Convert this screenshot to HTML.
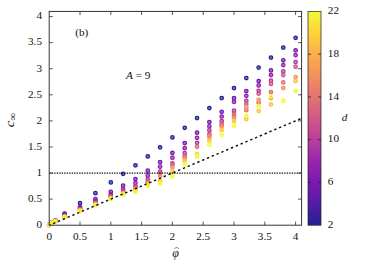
<!DOCTYPE html>
<html><head><meta charset="utf-8"><title>fig</title>
<style>html,body{margin:0;padding:0;background:#fff}body{width:374px;height:262px;overflow:hidden;font-family:"Liberation Serif",serif}svg{display:block}</style></head><body>
<svg width="374" height="262" viewBox="0 0 374 262">
<rect width="374" height="262" fill="#fff"/>
<defs><linearGradient id="pl" x1="0" y1="1" x2="0" y2="0">
<stop offset="0.0" stop-color="#0d0887"/>
<stop offset="0.1" stop-color="#41049d"/>
<stop offset="0.2" stop-color="#6a00a8"/>
<stop offset="0.3" stop-color="#8f0da4"/>
<stop offset="0.4" stop-color="#b12a90"/>
<stop offset="0.5" stop-color="#cc4778"/>
<stop offset="0.6" stop-color="#e16462"/>
<stop offset="0.7" stop-color="#f2844b"/>
<stop offset="0.8" stop-color="#fca636"/>
<stop offset="0.9" stop-color="#fcce25"/>
<stop offset="1.0" stop-color="#f0f921"/>
</linearGradient></defs>
<rect x="308" y="11.4" width="13" height="213.8" fill="url(#pl)" fill-opacity="0.9"/>
<rect x="308" y="11.4" width="13" height="213.8" fill="none" stroke="#222" stroke-width="0.7"/>
<path d="M308 54.16h3M321 54.16h-3" stroke="#222" stroke-width="0.8" fill="none"/>
<path d="M308 96.92h3M321 96.92h-3" stroke="#222" stroke-width="0.8" fill="none"/>
<path d="M308 139.68h3M321 139.68h-3" stroke="#222" stroke-width="0.8" fill="none"/>
<path d="M308 182.44h3M321 182.44h-3" stroke="#222" stroke-width="0.8" fill="none"/>
<g stroke-width="1.25">
<circle cx="49.20" cy="224.80" r="1.75" stroke="#252193" fill="#252193" fill-opacity="0.62"/>
<circle cx="51.97" cy="222.00" r="1.75" stroke="#252193" fill="#252193" fill-opacity="0.62"/>
<circle cx="55.36" cy="220.70" r="1.75" stroke="#252193" fill="#252193" fill-opacity="0.62"/>
<circle cx="64.60" cy="213.70" r="1.75" stroke="#252193" fill="#252193" fill-opacity="0.62"/>
<circle cx="80.00" cy="203.00" r="1.75" stroke="#252193" fill="#252193" fill-opacity="0.62"/>
<circle cx="95.40" cy="193.20" r="1.75" stroke="#252193" fill="#252193" fill-opacity="0.62"/>
<circle cx="110.80" cy="182.40" r="1.75" stroke="#252193" fill="#252193" fill-opacity="0.62"/>
<circle cx="123.12" cy="173.80" r="1.75" stroke="#252193" fill="#252193" fill-opacity="0.62"/>
<circle cx="135.44" cy="165.25" r="1.75" stroke="#252193" fill="#252193" fill-opacity="0.62"/>
<circle cx="147.76" cy="156.40" r="1.75" stroke="#252193" fill="#252193" fill-opacity="0.62"/>
<circle cx="160.08" cy="147.30" r="1.75" stroke="#252193" fill="#252193" fill-opacity="0.62"/>
<circle cx="172.40" cy="137.45" r="1.75" stroke="#252193" fill="#252193" fill-opacity="0.62"/>
<circle cx="184.72" cy="127.80" r="1.75" stroke="#252193" fill="#252193" fill-opacity="0.62"/>
<circle cx="197.04" cy="118.00" r="1.75" stroke="#252193" fill="#252193" fill-opacity="0.62"/>
<circle cx="209.36" cy="108.00" r="1.75" stroke="#252193" fill="#252193" fill-opacity="0.62"/>
<circle cx="221.68" cy="98.05" r="1.75" stroke="#252193" fill="#252193" fill-opacity="0.62"/>
<circle cx="234.00" cy="88.05" r="1.75" stroke="#252193" fill="#252193" fill-opacity="0.62"/>
<circle cx="246.32" cy="78.00" r="1.75" stroke="#252193" fill="#252193" fill-opacity="0.62"/>
<circle cx="258.64" cy="67.60" r="1.75" stroke="#252193" fill="#252193" fill-opacity="0.62"/>
<circle cx="270.96" cy="57.50" r="1.75" stroke="#252193" fill="#252193" fill-opacity="0.62"/>
<circle cx="283.28" cy="47.50" r="1.75" stroke="#252193" fill="#252193" fill-opacity="0.62"/>
<circle cx="295.60" cy="37.75" r="1.75" stroke="#252193" fill="#252193" fill-opacity="0.62"/>
<circle cx="49.20" cy="224.80" r="1.75" stroke="#7319b0" fill="#7319b0" fill-opacity="0.62"/>
<circle cx="51.97" cy="222.30" r="1.75" stroke="#7319b0" fill="#7319b0" fill-opacity="0.62"/>
<circle cx="55.36" cy="220.90" r="1.75" stroke="#7319b0" fill="#7319b0" fill-opacity="0.62"/>
<circle cx="64.60" cy="214.80" r="1.75" stroke="#7319b0" fill="#7319b0" fill-opacity="0.62"/>
<circle cx="80.00" cy="207.20" r="1.75" stroke="#7319b0" fill="#7319b0" fill-opacity="0.62"/>
<circle cx="95.40" cy="199.20" r="1.75" stroke="#7319b0" fill="#7319b0" fill-opacity="0.62"/>
<circle cx="110.80" cy="191.80" r="1.75" stroke="#7319b0" fill="#7319b0" fill-opacity="0.62"/>
<circle cx="123.12" cy="185.50" r="1.75" stroke="#7319b0" fill="#7319b0" fill-opacity="0.62"/>
<circle cx="135.44" cy="179.00" r="1.75" stroke="#7319b0" fill="#7319b0" fill-opacity="0.62"/>
<circle cx="147.76" cy="170.70" r="1.75" stroke="#7319b0" fill="#7319b0" fill-opacity="0.62"/>
<circle cx="160.08" cy="162.00" r="1.75" stroke="#7319b0" fill="#7319b0" fill-opacity="0.62"/>
<circle cx="172.40" cy="152.80" r="1.75" stroke="#7319b0" fill="#7319b0" fill-opacity="0.62"/>
<circle cx="184.72" cy="143.00" r="1.75" stroke="#7319b0" fill="#7319b0" fill-opacity="0.62"/>
<circle cx="197.04" cy="132.70" r="1.75" stroke="#7319b0" fill="#7319b0" fill-opacity="0.62"/>
<circle cx="209.36" cy="122.00" r="1.75" stroke="#7319b0" fill="#7319b0" fill-opacity="0.62"/>
<circle cx="221.68" cy="111.85" r="1.75" stroke="#7319b0" fill="#7319b0" fill-opacity="0.62"/>
<circle cx="234.00" cy="98.00" r="1.75" stroke="#7319b0" fill="#7319b0" fill-opacity="0.62"/>
<circle cx="246.32" cy="91.00" r="1.75" stroke="#7319b0" fill="#7319b0" fill-opacity="0.62"/>
<circle cx="258.64" cy="81.00" r="1.75" stroke="#7319b0" fill="#7319b0" fill-opacity="0.62"/>
<circle cx="270.96" cy="70.40" r="1.75" stroke="#7319b0" fill="#7319b0" fill-opacity="0.62"/>
<circle cx="283.28" cy="60.30" r="1.75" stroke="#7319b0" fill="#7319b0" fill-opacity="0.62"/>
<circle cx="295.60" cy="50.30" r="1.75" stroke="#7319b0" fill="#7319b0" fill-opacity="0.62"/>
<circle cx="49.20" cy="224.80" r="1.75" stroke="#921faf" fill="#921faf" fill-opacity="0.62"/>
<circle cx="51.97" cy="222.40" r="1.75" stroke="#921faf" fill="#921faf" fill-opacity="0.62"/>
<circle cx="55.36" cy="221.00" r="1.75" stroke="#921faf" fill="#921faf" fill-opacity="0.62"/>
<circle cx="64.60" cy="215.40" r="1.75" stroke="#921faf" fill="#921faf" fill-opacity="0.62"/>
<circle cx="80.00" cy="208.20" r="1.75" stroke="#921faf" fill="#921faf" fill-opacity="0.62"/>
<circle cx="95.40" cy="201.00" r="1.75" stroke="#921faf" fill="#921faf" fill-opacity="0.62"/>
<circle cx="110.80" cy="194.40" r="1.75" stroke="#921faf" fill="#921faf" fill-opacity="0.62"/>
<circle cx="123.12" cy="189.00" r="1.75" stroke="#921faf" fill="#921faf" fill-opacity="0.62"/>
<circle cx="135.44" cy="183.00" r="1.75" stroke="#921faf" fill="#921faf" fill-opacity="0.62"/>
<circle cx="147.76" cy="175.40" r="1.75" stroke="#921faf" fill="#921faf" fill-opacity="0.62"/>
<circle cx="160.08" cy="166.70" r="1.75" stroke="#921faf" fill="#921faf" fill-opacity="0.62"/>
<circle cx="172.40" cy="157.70" r="1.75" stroke="#921faf" fill="#921faf" fill-opacity="0.62"/>
<circle cx="184.72" cy="148.20" r="1.75" stroke="#921faf" fill="#921faf" fill-opacity="0.62"/>
<circle cx="197.04" cy="137.80" r="1.75" stroke="#921faf" fill="#921faf" fill-opacity="0.62"/>
<circle cx="209.36" cy="126.40" r="1.75" stroke="#921faf" fill="#921faf" fill-opacity="0.62"/>
<circle cx="221.68" cy="116.60" r="1.75" stroke="#921faf" fill="#921faf" fill-opacity="0.62"/>
<circle cx="234.00" cy="101.80" r="1.75" stroke="#921faf" fill="#921faf" fill-opacity="0.62"/>
<circle cx="246.32" cy="95.80" r="1.75" stroke="#921faf" fill="#921faf" fill-opacity="0.62"/>
<circle cx="258.64" cy="85.40" r="1.75" stroke="#921faf" fill="#921faf" fill-opacity="0.62"/>
<circle cx="270.96" cy="75.00" r="1.75" stroke="#921faf" fill="#921faf" fill-opacity="0.62"/>
<circle cx="283.28" cy="65.10" r="1.75" stroke="#921faf" fill="#921faf" fill-opacity="0.62"/>
<circle cx="295.60" cy="55.10" r="1.75" stroke="#921faf" fill="#921faf" fill-opacity="0.62"/>
<circle cx="49.20" cy="224.80" r="1.75" stroke="#b138a0" fill="#b138a0" fill-opacity="0.62"/>
<circle cx="51.97" cy="222.50" r="1.75" stroke="#b138a0" fill="#b138a0" fill-opacity="0.62"/>
<circle cx="55.36" cy="221.00" r="1.75" stroke="#b138a0" fill="#b138a0" fill-opacity="0.62"/>
<circle cx="64.60" cy="215.90" r="1.75" stroke="#b138a0" fill="#b138a0" fill-opacity="0.62"/>
<circle cx="80.00" cy="209.00" r="1.75" stroke="#b138a0" fill="#b138a0" fill-opacity="0.62"/>
<circle cx="95.40" cy="202.30" r="1.75" stroke="#b138a0" fill="#b138a0" fill-opacity="0.62"/>
<circle cx="110.80" cy="196.00" r="1.75" stroke="#b138a0" fill="#b138a0" fill-opacity="0.62"/>
<circle cx="123.12" cy="191.00" r="1.75" stroke="#b138a0" fill="#b138a0" fill-opacity="0.62"/>
<circle cx="135.44" cy="186.00" r="1.75" stroke="#b138a0" fill="#b138a0" fill-opacity="0.62"/>
<circle cx="147.76" cy="179.00" r="1.75" stroke="#b138a0" fill="#b138a0" fill-opacity="0.62"/>
<circle cx="160.08" cy="171.60" r="1.75" stroke="#b138a0" fill="#b138a0" fill-opacity="0.62"/>
<circle cx="172.40" cy="163.40" r="1.75" stroke="#b138a0" fill="#b138a0" fill-opacity="0.62"/>
<circle cx="184.72" cy="153.20" r="1.75" stroke="#b138a0" fill="#b138a0" fill-opacity="0.62"/>
<circle cx="197.04" cy="142.80" r="1.75" stroke="#b138a0" fill="#b138a0" fill-opacity="0.62"/>
<circle cx="209.36" cy="130.25" r="1.75" stroke="#b138a0" fill="#b138a0" fill-opacity="0.62"/>
<circle cx="221.68" cy="121.00" r="1.75" stroke="#b138a0" fill="#b138a0" fill-opacity="0.62"/>
<circle cx="234.00" cy="110.70" r="1.75" stroke="#b138a0" fill="#b138a0" fill-opacity="0.62"/>
<circle cx="246.32" cy="100.80" r="1.75" stroke="#b138a0" fill="#b138a0" fill-opacity="0.62"/>
<circle cx="258.64" cy="90.80" r="1.75" stroke="#b138a0" fill="#b138a0" fill-opacity="0.62"/>
<circle cx="270.96" cy="80.70" r="1.75" stroke="#b138a0" fill="#b138a0" fill-opacity="0.62"/>
<circle cx="283.28" cy="71.40" r="1.75" stroke="#b138a0" fill="#b138a0" fill-opacity="0.62"/>
<circle cx="295.60" cy="62.10" r="1.75" stroke="#b138a0" fill="#b138a0" fill-opacity="0.62"/>
<circle cx="49.20" cy="224.80" r="1.75" stroke="#cb538b" fill="#cb538b" fill-opacity="0.62"/>
<circle cx="51.97" cy="222.60" r="1.75" stroke="#cb538b" fill="#cb538b" fill-opacity="0.62"/>
<circle cx="55.36" cy="221.10" r="1.75" stroke="#cb538b" fill="#cb538b" fill-opacity="0.62"/>
<circle cx="64.60" cy="216.30" r="1.75" stroke="#cb538b" fill="#cb538b" fill-opacity="0.62"/>
<circle cx="80.00" cy="209.50" r="1.75" stroke="#cb538b" fill="#cb538b" fill-opacity="0.62"/>
<circle cx="95.40" cy="203.20" r="1.75" stroke="#cb538b" fill="#cb538b" fill-opacity="0.62"/>
<circle cx="110.80" cy="197.00" r="1.75" stroke="#cb538b" fill="#cb538b" fill-opacity="0.62"/>
<circle cx="123.12" cy="192.00" r="1.75" stroke="#cb538b" fill="#cb538b" fill-opacity="0.62"/>
<circle cx="135.44" cy="187.50" r="1.75" stroke="#cb538b" fill="#cb538b" fill-opacity="0.62"/>
<circle cx="147.76" cy="181.50" r="1.75" stroke="#cb538b" fill="#cb538b" fill-opacity="0.62"/>
<circle cx="160.08" cy="173.80" r="1.75" stroke="#cb538b" fill="#cb538b" fill-opacity="0.62"/>
<circle cx="184.72" cy="156.40" r="1.75" stroke="#cb538b" fill="#cb538b" fill-opacity="0.62"/>
<circle cx="209.36" cy="134.00" r="1.75" stroke="#cb538b" fill="#cb538b" fill-opacity="0.62"/>
<circle cx="221.68" cy="124.00" r="1.75" stroke="#cb538b" fill="#cb538b" fill-opacity="0.62"/>
<circle cx="234.00" cy="113.80" r="1.75" stroke="#cb538b" fill="#cb538b" fill-opacity="0.62"/>
<circle cx="246.32" cy="104.00" r="1.75" stroke="#cb538b" fill="#cb538b" fill-opacity="0.62"/>
<circle cx="258.64" cy="93.60" r="1.75" stroke="#cb538b" fill="#cb538b" fill-opacity="0.62"/>
<circle cx="270.96" cy="83.90" r="1.75" stroke="#cb538b" fill="#cb538b" fill-opacity="0.62"/>
<circle cx="283.28" cy="75.10" r="1.75" stroke="#cb538b" fill="#cb538b" fill-opacity="0.62"/>
<circle cx="295.60" cy="66.70" r="1.75" stroke="#cb538b" fill="#cb538b" fill-opacity="0.62"/>
<circle cx="147.76" cy="182.50" r="1.75" stroke="#e06e75" fill="#e06e75" fill-opacity="0.62"/>
<circle cx="172.40" cy="165.00" r="1.75" stroke="#e06e75" fill="#e06e75" fill-opacity="0.62"/>
<circle cx="197.04" cy="146.80" r="1.75" stroke="#e06e75" fill="#e06e75" fill-opacity="0.62"/>
<circle cx="209.36" cy="135.50" r="1.75" stroke="#e06e75" fill="#e06e75" fill-opacity="0.62"/>
<circle cx="221.68" cy="125.30" r="1.75" stroke="#e06e75" fill="#e06e75" fill-opacity="0.62"/>
<circle cx="234.00" cy="116.20" r="1.75" stroke="#e06e75" fill="#e06e75" fill-opacity="0.62"/>
<circle cx="246.32" cy="110.20" r="1.75" stroke="#e06e75" fill="#e06e75" fill-opacity="0.62"/>
<circle cx="258.64" cy="102.80" r="1.75" stroke="#e06e75" fill="#e06e75" fill-opacity="0.62"/>
<circle cx="270.96" cy="92.00" r="1.75" stroke="#e06e75" fill="#e06e75" fill-opacity="0.62"/>
<circle cx="283.28" cy="82.40" r="1.75" stroke="#e06e75" fill="#e06e75" fill-opacity="0.62"/>
<circle cx="49.20" cy="224.80" r="1.75" stroke="#f4935a" fill="#f4935a" fill-opacity="0.62"/>
<circle cx="51.97" cy="222.70" r="1.75" stroke="#f4935a" fill="#f4935a" fill-opacity="0.62"/>
<circle cx="55.36" cy="221.20" r="1.75" stroke="#f4935a" fill="#f4935a" fill-opacity="0.62"/>
<circle cx="64.60" cy="216.60" r="1.75" stroke="#f4935a" fill="#f4935a" fill-opacity="0.62"/>
<circle cx="80.00" cy="210.00" r="1.75" stroke="#f4935a" fill="#f4935a" fill-opacity="0.62"/>
<circle cx="95.40" cy="204.00" r="1.75" stroke="#f4935a" fill="#f4935a" fill-opacity="0.62"/>
<circle cx="110.80" cy="197.80" r="1.75" stroke="#f4935a" fill="#f4935a" fill-opacity="0.62"/>
<circle cx="123.12" cy="193.00" r="1.75" stroke="#f4935a" fill="#f4935a" fill-opacity="0.62"/>
<circle cx="135.44" cy="188.80" r="1.75" stroke="#f4935a" fill="#f4935a" fill-opacity="0.62"/>
<circle cx="147.76" cy="183.50" r="1.75" stroke="#f4935a" fill="#f4935a" fill-opacity="0.62"/>
<circle cx="160.08" cy="176.00" r="1.75" stroke="#f4935a" fill="#f4935a" fill-opacity="0.62"/>
<circle cx="172.40" cy="167.50" r="1.75" stroke="#f4935a" fill="#f4935a" fill-opacity="0.62"/>
<circle cx="184.72" cy="158.40" r="1.75" stroke="#f4935a" fill="#f4935a" fill-opacity="0.62"/>
<circle cx="209.36" cy="137.00" r="1.75" stroke="#f4935a" fill="#f4935a" fill-opacity="0.62"/>
<circle cx="221.68" cy="126.60" r="1.75" stroke="#f4935a" fill="#f4935a" fill-opacity="0.62"/>
<circle cx="234.00" cy="118.20" r="1.75" stroke="#f4935a" fill="#f4935a" fill-opacity="0.62"/>
<circle cx="246.32" cy="107.20" r="1.75" stroke="#f4935a" fill="#f4935a" fill-opacity="0.62"/>
<circle cx="258.64" cy="99.80" r="1.75" stroke="#f4935a" fill="#f4935a" fill-opacity="0.62"/>
<circle cx="270.96" cy="98.00" r="1.75" stroke="#f4935a" fill="#f4935a" fill-opacity="0.62"/>
<circle cx="283.28" cy="88.00" r="1.75" stroke="#f4935a" fill="#f4935a" fill-opacity="0.62"/>
<circle cx="295.60" cy="77.10" r="1.75" stroke="#f4935a" fill="#f4935a" fill-opacity="0.62"/>
<circle cx="49.20" cy="224.80" r="1.75" stroke="#fdc242" fill="#fdc242" fill-opacity="0.62"/>
<circle cx="51.97" cy="222.70" r="1.75" stroke="#fdc242" fill="#fdc242" fill-opacity="0.62"/>
<circle cx="55.36" cy="221.20" r="1.75" stroke="#fdc242" fill="#fdc242" fill-opacity="0.62"/>
<circle cx="64.60" cy="216.90" r="1.75" stroke="#fdc242" fill="#fdc242" fill-opacity="0.62"/>
<circle cx="80.00" cy="210.50" r="1.75" stroke="#fdc242" fill="#fdc242" fill-opacity="0.62"/>
<circle cx="95.40" cy="204.60" r="1.75" stroke="#fdc242" fill="#fdc242" fill-opacity="0.62"/>
<circle cx="110.80" cy="198.50" r="1.75" stroke="#fdc242" fill="#fdc242" fill-opacity="0.62"/>
<circle cx="123.12" cy="193.90" r="1.75" stroke="#fdc242" fill="#fdc242" fill-opacity="0.62"/>
<circle cx="135.44" cy="190.30" r="1.75" stroke="#fdc242" fill="#fdc242" fill-opacity="0.62"/>
<circle cx="147.76" cy="184.50" r="1.75" stroke="#fdc242" fill="#fdc242" fill-opacity="0.62"/>
<circle cx="160.08" cy="181.20" r="1.75" stroke="#fdc242" fill="#fdc242" fill-opacity="0.62"/>
<circle cx="172.40" cy="171.60" r="1.75" stroke="#fdc242" fill="#fdc242" fill-opacity="0.62"/>
<circle cx="184.72" cy="160.80" r="1.75" stroke="#fdc242" fill="#fdc242" fill-opacity="0.62"/>
<circle cx="209.36" cy="140.60" r="1.75" stroke="#fdc242" fill="#fdc242" fill-opacity="0.62"/>
<circle cx="221.68" cy="129.90" r="1.75" stroke="#fdc242" fill="#fdc242" fill-opacity="0.62"/>
<circle cx="234.00" cy="120.90" r="1.75" stroke="#fdc242" fill="#fdc242" fill-opacity="0.62"/>
<circle cx="246.32" cy="119.00" r="1.75" stroke="#fdc242" fill="#fdc242" fill-opacity="0.62"/>
<circle cx="258.64" cy="111.00" r="1.75" stroke="#fdc242" fill="#fdc242" fill-opacity="0.62"/>
<circle cx="270.96" cy="104.40" r="1.75" stroke="#fdc242" fill="#fdc242" fill-opacity="0.62"/>
<circle cx="295.60" cy="81.10" r="1.75" stroke="#fdc242" fill="#fdc242" fill-opacity="0.62"/>
<circle cx="197.04" cy="154.00" r="1.75" stroke="#fcd33b" fill="#fcd33b" fill-opacity="0.62"/>
<circle cx="49.20" cy="224.80" r="1.75" stroke="#f2fa37" fill="#f2fa37" fill-opacity="0.62"/>
<circle cx="51.97" cy="222.80" r="1.75" stroke="#f2fa37" fill="#f2fa37" fill-opacity="0.62"/>
<circle cx="55.36" cy="221.30" r="1.75" stroke="#f2fa37" fill="#f2fa37" fill-opacity="0.62"/>
<circle cx="64.60" cy="217.20" r="1.75" stroke="#f2fa37" fill="#f2fa37" fill-opacity="0.62"/>
<circle cx="80.00" cy="211.00" r="1.75" stroke="#f2fa37" fill="#f2fa37" fill-opacity="0.62"/>
<circle cx="95.40" cy="205.20" r="1.75" stroke="#f2fa37" fill="#f2fa37" fill-opacity="0.62"/>
<circle cx="110.80" cy="199.20" r="1.75" stroke="#f2fa37" fill="#f2fa37" fill-opacity="0.62"/>
<circle cx="123.12" cy="194.70" r="1.75" stroke="#f2fa37" fill="#f2fa37" fill-opacity="0.62"/>
<circle cx="135.44" cy="191.80" r="1.75" stroke="#f2fa37" fill="#f2fa37" fill-opacity="0.62"/>
<circle cx="147.76" cy="185.50" r="1.75" stroke="#f2fa37" fill="#f2fa37" fill-opacity="0.62"/>
<circle cx="160.08" cy="183.60" r="1.75" stroke="#f2fa37" fill="#f2fa37" fill-opacity="0.62"/>
<circle cx="172.40" cy="176.40" r="1.75" stroke="#f2fa37" fill="#f2fa37" fill-opacity="0.62"/>
<circle cx="184.72" cy="164.40" r="1.75" stroke="#f2fa37" fill="#f2fa37" fill-opacity="0.62"/>
<circle cx="197.04" cy="156.40" r="1.75" stroke="#f2fa37" fill="#f2fa37" fill-opacity="0.62"/>
<circle cx="209.36" cy="144.50" r="1.75" stroke="#f2fa37" fill="#f2fa37" fill-opacity="0.62"/>
<circle cx="221.68" cy="134.80" r="1.75" stroke="#f2fa37" fill="#f2fa37" fill-opacity="0.62"/>
<circle cx="234.00" cy="125.70" r="1.75" stroke="#f2fa37" fill="#f2fa37" fill-opacity="0.62"/>
<circle cx="246.32" cy="115.80" r="1.75" stroke="#f2fa37" fill="#f2fa37" fill-opacity="0.62"/>
<circle cx="258.64" cy="106.00" r="1.75" stroke="#f2fa37" fill="#f2fa37" fill-opacity="0.62"/>
<circle cx="270.96" cy="96.50" r="1.75" stroke="#f2fa37" fill="#f2fa37" fill-opacity="0.62"/>
<circle cx="283.28" cy="100.70" r="1.75" stroke="#f2fa37" fill="#f2fa37" fill-opacity="0.62"/>
<circle cx="295.60" cy="91.00" r="1.75" stroke="#f2fa37" fill="#f2fa37" fill-opacity="0.62"/>
</g>
<path d="M49.20 173.15H301.6" stroke="#111" stroke-width="1.15" stroke-dasharray="1.4 1.1" fill="none"/>
<path d="M49.20 225.20L301.6 118.29" stroke="#111" stroke-width="1.45" stroke-dasharray="2.4 2.82" stroke-dashoffset="1.0" fill="none"/>
<rect x="49.2" y="11.4" width="252.4" height="213.8" fill="none" stroke="#2b2b2b" stroke-width="0.95"/>
<path d="M80.00 225.2v-3.6M80.00 11.4v3.6M49.2 199.12h3.6M301.6 199.12h-3.6M110.80 225.2v-3.6M110.80 11.4v3.6M49.2 173.05h3.6M301.6 173.05h-3.6M141.60 225.2v-3.6M141.60 11.4v3.6M49.2 146.97h3.6M301.6 146.97h-3.6M172.40 225.2v-3.6M172.40 11.4v3.6M49.2 120.90h3.6M301.6 120.90h-3.6M203.20 225.2v-3.6M203.20 11.4v3.6M49.2 94.82h3.6M301.6 94.82h-3.6M234.00 225.2v-3.6M234.00 11.4v3.6M49.2 68.75h3.6M301.6 68.75h-3.6M264.80 225.2v-3.6M264.80 11.4v3.6M49.2 42.67h3.6M301.6 42.67h-3.6M295.60 225.2v-3.6M295.60 11.4v3.6M49.2 16.60h3.6M301.6 16.60h-3.6" stroke="#2b2b2b" stroke-width="0.8" fill="none"/>
<g font-family="'Liberation Serif',serif" font-size="11.2" fill="#111">
<g text-anchor="start">
<text x="327.8" y="14.15">22</text>
<text x="327.8" y="56.91">18</text>
<text x="327.8" y="99.67">14</text>
<text x="327.8" y="142.43">10</text>
<text x="327.8" y="185.2">6</text>
<text x="327.8" y="227.95">2</text>
<text x="341.8" y="121.2" font-style="italic">d</text>
<text x="75.2" y="35.9">(b)</text>
<text x="126" y="78.7"><tspan font-style="italic">A</tspan> = 9</text>
</g>
<g text-anchor="middle">
<text x="49.2" y="239.6">0</text>
<text x="80" y="239.6">0.5</text>
<text x="110.8" y="239.6">1</text>
<text x="141.6" y="239.6">1.5</text>
<text x="172.4" y="239.6">2</text>
<text x="203.2" y="239.6">2.5</text>
<text x="234" y="239.6">3</text>
<text x="264.8" y="239.6">3.5</text>
<text x="295.6" y="239.6">4</text>
<text x="175.5" y="257.1" font-style="italic" font-size="12">φ</text>
</g>
<g text-anchor="end">
<text x="42" y="228">0</text>
<text x="42" y="201.93">0.5</text>
<text x="42" y="175.85">1</text>
<text x="42" y="149.78">1.5</text>
<text x="42" y="123.7">2</text>
<text x="42" y="97.62">2.5</text>
<text x="42" y="71.55">3</text>
<text x="42" y="45.47">3.5</text>
<text x="42" y="19.4">4</text>
</g>
</g>
<path d="M174.45 248.55L176.65 247.35L178.85 248.55" stroke="#111" stroke-width="0.55" fill="none"/>
<g transform="translate(13.5 127.6) rotate(-90) scale(1.1 1)"><text x="0.3" y="0" font-family="'Liberation Serif',serif" font-size="13.5" font-style="italic" fill="#111">c<tspan font-size="10" font-style="normal" dy="2.6">∞</tspan></text></g>
</svg></body></html>
